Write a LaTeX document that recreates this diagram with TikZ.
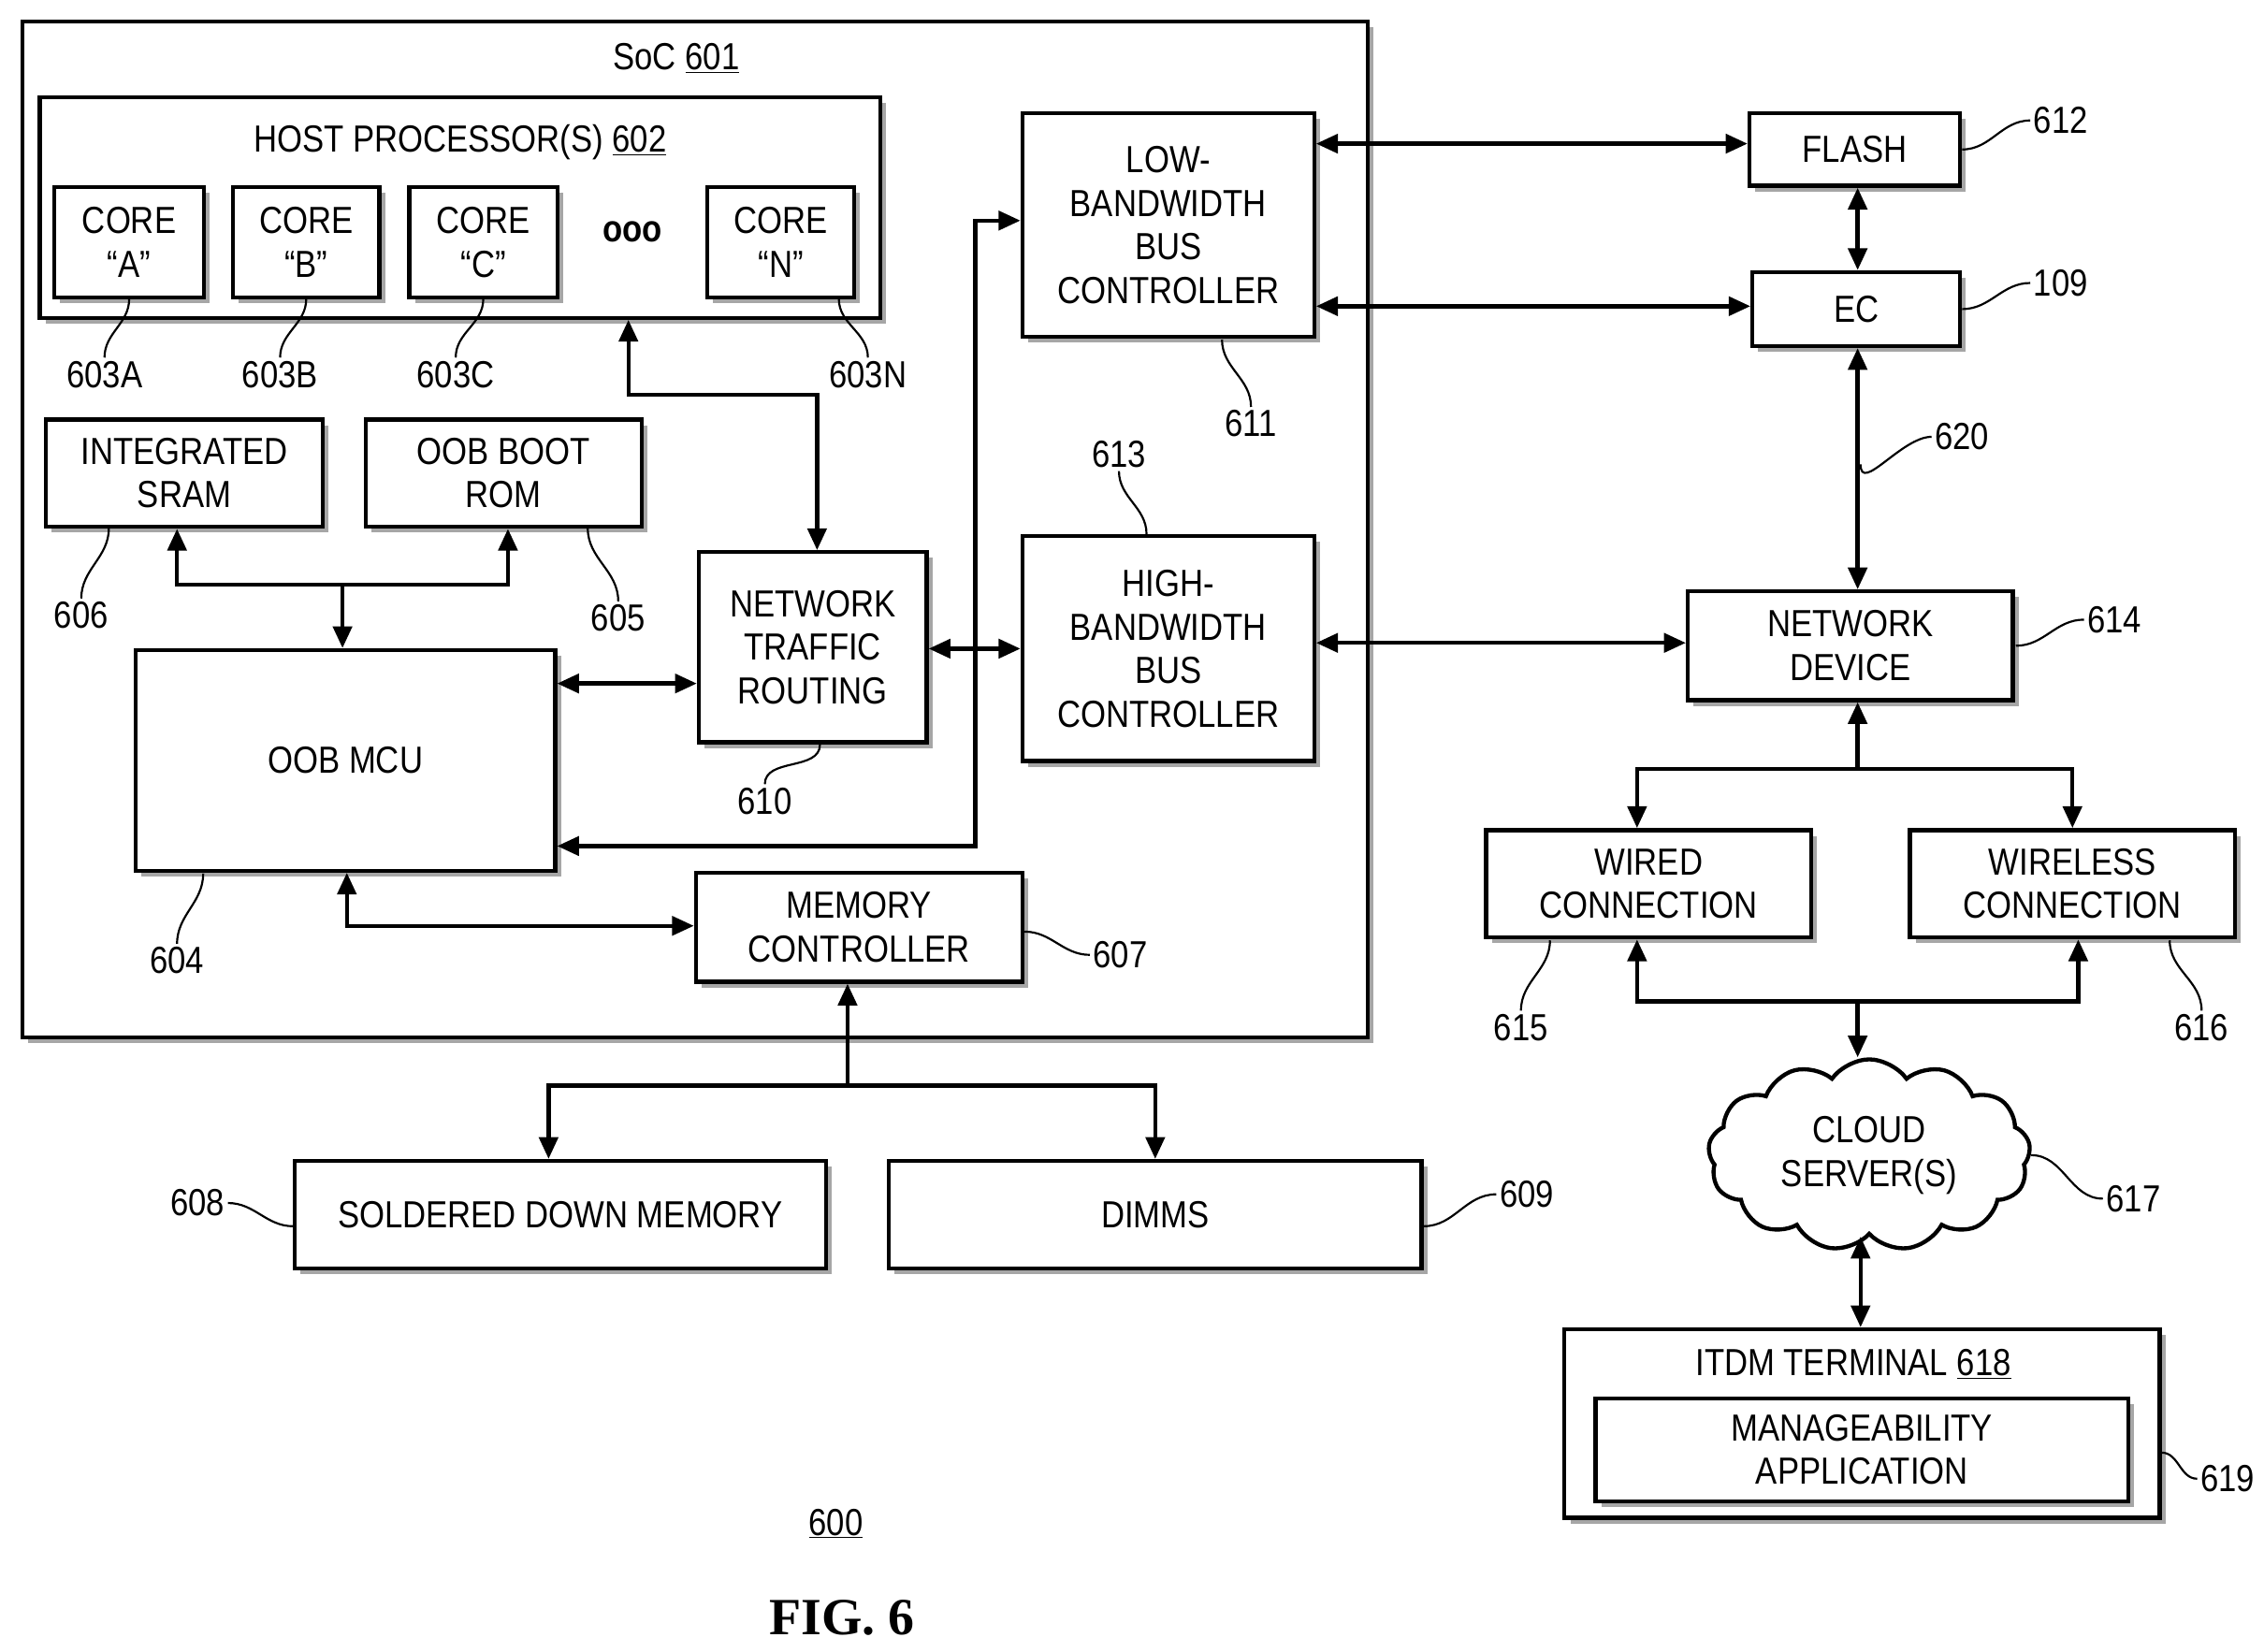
\documentclass[tikz,border=0pt]{standalone}
\usepackage{fontspec}
\setmainfont{Liberation Sans}[FakeStretch=0.86]
\newfontfamily\figfont{Liberation Serif}
\usetikzlibrary{arrows.meta,shadows,shapes.symbols}
\begin{document}
\begin{tikzpicture}[x=1pt,y=-1pt,
  font=\fontsize{26}{30}\selectfont,
  every path/.style={line width=2.8pt},
  box/.style={draw,fill=white,line width=2.8pt,align=center,inner sep=0pt,
     drop shadow={shadow xshift=4pt,shadow yshift=-4pt,fill=gray!70,opacity=1}},
  lbl/.style={inner sep=1pt},
  lead/.style={line width=1.4pt},
  ar/.style={-{Triangle[length=15pt,width=13pt]}},
  dar/.style={{Triangle[length=15pt,width=13pt]}-{Triangle[length=15pt,width=13pt]}}]
\useasboundingbox (0,0) rectangle (1560,1138);
\fill[white] (0,0) rectangle (1560,1138);
% SoC
\node[box,minimum width=927,minimum height=700] (soc) at (479,365) {};
\node[lbl] (socl) at (466,40) {SoC \underline{601}};
\node[box,minimum width=579,minimum height=152] (host) at (317,143) {};
\node[lbl] (hostl) at (317,98) {HOST PROCESSOR(S) \underline{602}};
\node[box,minimum width=103,minimum height=76] (ca) at (89,167) {CORE\\``A''};
\node[box,minimum width=101,minimum height=76] (cb) at (211,167) {CORE\\``B''};
\node[box,minimum width=102,minimum height=76] (cc) at (333,167) {CORE\\``C''};
\node[box,minimum width=101,minimum height=76] (cn) at (538,167) {CORE\\``N''};
\node[lbl,font=\bfseries\fontsize{26}{30}\selectfont] (dots) at (436,160) {ooo};
\node[lbl] (l603a) at (72,258) {603A};
\node[lbl] (l603b) at (193,258) {603B};
\node[lbl] (l603c) at (314,258) {603C};
\node[lbl] (l603n) at (598,258) {603N};
\draw[lead] (89,206) to[out=-90,in=90] (l603a.north);
\draw[lead] (211,206) to[out=-90,in=90] (l603b.north);
\draw[lead] (333,206) to[out=-90,in=90] (l603c.north);
\draw[lead] (578,206) to[out=-90,in=90] (l603n.north);
\node[box,minimum width=191,minimum height=74] (sram) at (127,326) {INTEGRATED\\SRAM};
\node[box,minimum width=190,minimum height=74] (rom) at (347,326) {OOB BOOT\\ROM};
\node[lbl] (l606) at (56,424) {606};
\node[lbl] (l605) at (426,426) {605};
\draw[lead] (75,364) to[out=-90,in=90] (l606.north);
\draw[lead] (405,364) to[out=-90,in=90] (l605.north);
\node[box,minimum width=289,minimum height=152] (mcu) at (238,524) {OOB MCU};
\node[lbl] (l604) at (122,662) {604};
\draw[lead] (140,602) to[out=-90,in=90] (l604.north);
\node[box,minimum width=157,minimum height=131] (ntr) at (560,446) {NETWORK\\TRAFFIC\\ROUTING};
\node[lbl] (l610) at (527,552) {610};
\draw[lead] (565,513) to[out=-90,in=90] (l610.north);
\node[box,minimum width=225,minimum height=75] (mem) at (592,639) {MEMORY\\CONTROLLER};
\node[lbl] (l607) at (772,658) {607};
\draw[lead] (706,642) to[out=0,in=180] (l607.west);
\node[box,minimum width=201,minimum height=154] (lb) at (805,155) {LOW-\\BANDWIDTH\\BUS\\CONTROLLER};
\node[lbl] (l611) at (862,292) {611};
\draw[lead] (842,234) to[out=-90,in=90] (l611.north);
\node[box,minimum width=201,minimum height=155] (hb) at (805,447) {HIGH-\\BANDWIDTH\\BUS\\CONTROLLER};
\node[lbl] (l613) at (771,313) {613};
\draw[lead] (l613.south) to[out=-90,in=90] (790,368);
% right side
\node[box,minimum width=145,minimum height=50] (flash) at (1278,103) {FLASH};
\node[lbl] (l612) at (1420,83) {612};
\draw[lead] (1352,103) to[out=0,in=180] (l612.west);
\node[box,minimum width=143,minimum height=51] (ec) at (1279,213) {EC};
\node[lbl] (l109) at (1420,195) {109};
\draw[lead] (1352,213) to[out=0,in=180] (l109.west);
\node[box,minimum width=224,minimum height=75] (nd) at (1275,445) {NETWORK\\DEVICE};
\node[lbl] (l614) at (1457,427) {614};
\draw[lead] (1389,445) to[out=0,in=180] (l614.west);
\node[lbl] (l620) at (1352,301) {620};
\coordinate (p620) at (1282,320);
\draw[lead] (p620) to[out=-90,in=180] (l620.west);
\node[box,minimum width=224,minimum height=74] (wired) at (1136,609) {WIRED\\CONNECTION};
\node[box,minimum width=224,minimum height=74] (wless) at (1428,609) {WIRELESS\\CONNECTION};
\node[lbl] (l615) at (1048,708) {615};
\node[lbl] (l616) at (1517,708) {616};
\draw[lead] (1068,648) to[out=-90,in=90] (l615.north);
\draw[lead] (1495,648) to[out=-90,in=90] (l616.north);
\node[cloud,draw,fill=white,line width=2.8pt,cloud puffs=13,cloud puff arc=110,aspect=1.7,
  minimum width=222,minimum height=132,align=center,inner sep=0pt] (cloud) at (1288,796) {CLOUD\\SERVER(S)};
\node[lbl] (l617) at (1470,826) {617};
\draw[lead] (cloud.east) to[out=0,in=180] (l617.west);
\node[box,minimum width=410,minimum height=130] (itdm) at (1283,981) {};
\node[lbl] (itdml) at (1277,940) {ITDM TERMINAL \underline{618}};
\node[box,minimum width=367,minimum height=71] (app) at (1283,999) {MANAGEABILITY\\APPLICATION};
\node[lbl] (l619) at (1535,1019) {619};
\draw[lead] (itdm.east) ++(0,20) to[out=0,in=180] (l619.west);
% memory
\node[box,minimum width=366,minimum height=74] (sdm) at (386,837) {SOLDERED DOWN MEMORY};
\node[box,minimum width=367,minimum height=74] (dimm) at (796,837) {DIMMS};
\node[lbl] (l608) at (136,829) {608};
\draw[lead] (l608.east) to[out=0,in=180] (202,845);
\node[lbl] (l609) at (1052,823) {609};
\draw[lead] (981,845) to[out=0,in=180] (l609.west);
\node[lbl] (l600) at (576,1050) {\underline{600}};
\node[lbl,font=\figfont\bfseries\fontsize{36}{40}\selectfont] (fig) at (580,1115) {FIG. 6};
% arrows
\draw[dar] (433,0 |- host.south) -- (433,272) -- (563,272) -- (563,0 |- ntr.north);
\draw[ar] (236,403) -- (236,0 |- mcu.north);
\draw[dar] (122,0 |- sram.south) -- (122,403) -- (350,403) -- (350,0 |- rom.south);
\draw[dar] (mcu.east |- 0,471) -- (ntr.west |- 0,471);
\draw[dar] (ntr.east |- 0,447) -- (hb.west |- 0,447);
\draw[dar] (mcu.east |- 0,583) -- (672,583) -- (672,152) -- (lb.west |- 0,152);
\draw[dar] (239,0 |- mcu.south) -- (239,638) -- (mem.west |- 0,638);
\draw[ar] (584,748) -- (584,0 |- mem.south);
\draw[ar] (584,748) -- (378,748) -- (378,0 |- sdm.north);
\draw[ar] (584,748) -- (796,748) -- (796,0 |- dimm.north);
\draw[dar] (lb.east |- 0,99) -- (flash.west |- 0,99);
\draw[dar] (lb.east |- 0,211) -- (ec.west |- 0,211);
\draw[dar] (1280,0 |- flash.south) -- (1280,0 |- ec.north);
\draw[dar] (1280,0 |- ec.south) -- (1280,0 |- nd.north);
\draw[dar] (hb.east |- 0,443) -- (nd.west |- 0,443);
\draw[ar] (1280,530) -- (1280,0 |- nd.south);
\draw[ar] (1280,530) -- (1128,530) -- (1128,0 |- wired.north);
\draw[ar] (1280,530) -- (1428,530) -- (1428,0 |- wless.north);
\draw[dar] (1128,0 |- wired.south) -- (1128,690) -- (1432,690) -- (1432,0 |- wless.south);
\draw[ar] (1280,690) -- (1280,0 |- cloud.north);
\draw[dar] (1282,0 |- cloud.south) -- (1282,0 |- itdm.north);
\end{tikzpicture}
\end{document}
